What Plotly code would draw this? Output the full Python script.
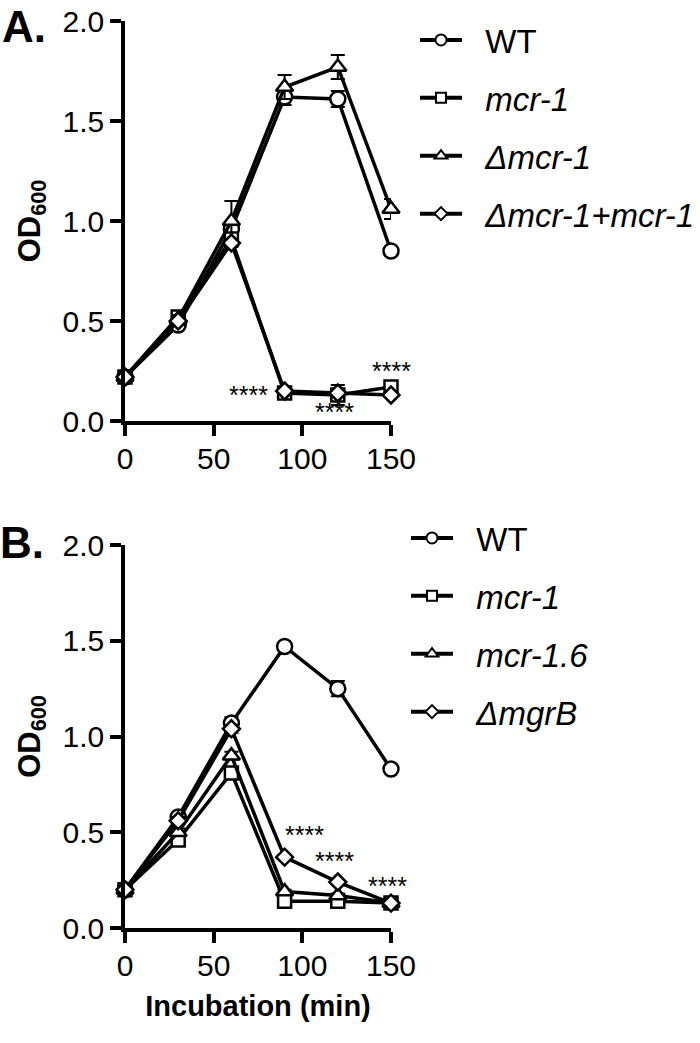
import plotly.graph_objects as go

# ---------------- data ----------------
time_min = [0, 30, 60, 90, 120, 150]

# Panel A
a_names = ["WT", "<i>mcr-1</i>", "<i>Δmcr-1</i>", "<i>Δmcr-1+mcr-1</i>"]
a_wt = [0.22, 0.48, 0.96, 1.62, 1.61, 0.85]
a_wt_err = [0.01, 0.01, 0.02, 0.04, 0.04, 0.01]
a_mcr1 = [0.22, 0.52, 0.91, 0.14, 0.13, 0.17]
a_mcr1_err = [0.01, 0.02, 0.02, 0.01, 0.05, 0.02]
a_dmcr1 = [0.22, 0.51, 1.00, 1.67, 1.77, 1.06]
a_dmcr1_err = [0.01, 0.02, 0.10, 0.06, 0.06, 0.05]
a_comp = [0.22, 0.50, 0.89, 0.15, 0.14, 0.13]
a_comp_err = [0.01, 0.02, 0.02, 0.01, 0.02, 0.01]

# Panel B
b_names = ["WT", "<i>mcr-1</i>", "<i>mcr-1.6</i>", "<i>ΔmgrB</i>"]
b_wt = [0.20, 0.58, 1.07, 1.47, 1.25, 0.83]
b_wt_err = [0.01, 0.02, 0.03, 0.01, 0.04, 0.01]
b_mcr1 = [0.20, 0.46, 0.81, 0.14, 0.14, 0.13]
b_mcr1_err = [0.01, 0.02, 0.02, 0.01, 0.01, 0.01]
b_mcr16 = [0.20, 0.50, 0.90, 0.19, 0.17, 0.13]
b_mcr16_err = [0.01, 0.02, 0.02, 0.01, 0.01, 0.01]
b_mgrb = [0.20, 0.56, 1.04, 0.37, 0.24, 0.13]
b_mgrb_err = [0.01, 0.02, 0.02, 0.01, 0.01, 0.01]

# significance marks (x, y)
a_sig_x = [69.9, 117.9, 150.0]
a_sig_y = [0.145, 0.06, 0.267]
b_sig_x = [101.5, 118.4, 147.9]
b_sig_y = [0.503, 0.364, 0.237]
sig_label = "****"

y_ticks = [0, 0.5, 1.0, 1.5, 2.0]
x_ticks = [0, 50, 100, 150]

# ---------------- styling ----------------
W, H = 700, 1043
FONT = "Liberation Sans, Arial, sans-serif"
symbols = ["circle", "square", "triangle-up", "diamond"]
msizes = [15, 13, 15, 13]
leg_sizes = [11, 10, 11, 10]

fig = go.Figure()

def add_series(xa, ya, legend, names, ys, errs):
    for i, (nm, yv, ev) in enumerate(zip(names, ys, errs)):
        fig.add_trace(go.Scatter(
            x=time_min, y=yv, xaxis=xa, yaxis=ya,
            mode="lines+markers", name=nm, showlegend=False,
            line=dict(color="black", width=3.5),
            marker=dict(symbol=symbols[i], size=msizes[i], color="white",
                        line=dict(color="black", width=2.5)),
            error_y=dict(type="data", array=ev, color="black",
                         thickness=2, width=7),
            cliponaxis=False,
        ))
    # legend entries (smaller symbols, like the original key)
    for i, nm in enumerate(names):
        fig.add_trace(go.Scatter(
            x=[None], y=[None], xaxis=xa, yaxis=ya,
            mode="lines+markers", name="\u00a0\u00a0" + nm,
            legend=legend, legendgroup=legend + str(i), showlegend=True,
            line=dict(color="black", width=4),
            marker=dict(symbol=symbols[i], size=leg_sizes[i], color="white",
                        line=dict(color="black", width=2)),
        ))

add_series("x", "y", "legend", a_names,
           [a_wt, a_mcr1, a_dmcr1, a_comp],
           [a_wt_err, a_mcr1_err, a_dmcr1_err, a_comp_err])
add_series("x2", "y2", "legend2", b_names,
           [b_wt, b_mcr1, b_mcr16, b_mgrb],
           [b_wt_err, b_mcr1_err, b_mcr16_err, b_mgrb_err])

x_dom = [125 / W, 391 / W]
ya_dom = [1 - 421 / H, 1 - 21 / H]
yb_dom = [1 - 928 / H, 1 - 545 / H]

axis_common = dict(showline=True, linecolor="black", linewidth=3.5,
                   ticks="outside", ticklen=11, tickwidth=3.5, tickcolor="black",
                   showgrid=False, zeroline=False,
                   tickfont=dict(family=FONT, size=30, color="black"))

leg_common = dict(xanchor="left", yanchor="top",
                  font=dict(family=FONT, size=33, color="black"),
                  itemwidth=42, tracegroupgap=12, traceorder="grouped",
                  bgcolor="rgba(0,0,0,0)")

fig.update_layout(
    width=W, height=H,
    margin=dict(l=0, r=0, t=0, b=0, autoexpand=False),
    paper_bgcolor="white", plot_bgcolor="white",
    showlegend=True,
    xaxis=dict(domain=x_dom, anchor="y", range=[0, 150], tickvals=x_ticks,
               ticklabelstandoff=-3, **axis_common),
    yaxis=dict(domain=ya_dom, anchor="x", range=[0, 2], tickvals=y_ticks, tickformat=".1f",
               title=dict(text="<b>OD<sub>600</sub></b>", standoff=14,
                          font=dict(family=FONT, size=31, color="black")),
               **axis_common),
    xaxis2=dict(domain=x_dom, anchor="y2", range=[0, 150], tickvals=x_ticks,
                ticklabelstandoff=-3,
                title=dict(text="<b>Incubation (min)</b>", standoff=16,
                           font=dict(family=FONT, size=29, color="black")),
                **axis_common),
    yaxis2=dict(domain=yb_dom, anchor="x2", range=[0, 2], tickvals=y_ticks, tickformat=".1f",
                title=dict(text="<b>OD<sub>600</sub></b>", standoff=14,
                           font=dict(family=FONT, size=31, color="black")),
                **axis_common),
    legend=dict(x=415 / W, y=1 - 12 / H, **leg_common),
    legend2=dict(x=406 / W, y=1 - 510 / H, **leg_common),
)

annotations = []
for sx, sy in zip(a_sig_x, a_sig_y):
    annotations.append(dict(x=sx, y=sy, xref="x", yref="y", text=sig_label,
                            showarrow=False, yshift=-3, xanchor="center", yanchor="middle",
                            font=dict(family=FONT, size=25, color="black")))
for sx, sy in zip(b_sig_x, b_sig_y):
    annotations.append(dict(x=sx, y=sy, xref="x2", yref="y2", text=sig_label,
                            showarrow=False, yshift=-3, xanchor="center", yanchor="middle",
                            font=dict(family=FONT, size=25, color="black")))
annotations.append(dict(x=24 / W, y=1 - 27 / H, xref="paper", yref="paper",
                        text="<b>A.</b>", showarrow=False, xanchor="center", yanchor="middle",
                        font=dict(family=FONT, size=44, color="black")))
annotations.append(dict(x=22 / W, y=1 - 542 / H, xref="paper", yref="paper",
                        text="<b>B.</b>", showarrow=False, xanchor="center", yanchor="middle",
                        font=dict(family=FONT, size=44, color="black")))
fig.update_layout(annotations=annotations)

fig.write_html("out.html", config={"displayModeBar": False},
               post_script="document.body.style.margin='0';document.body.style.padding='0';")
